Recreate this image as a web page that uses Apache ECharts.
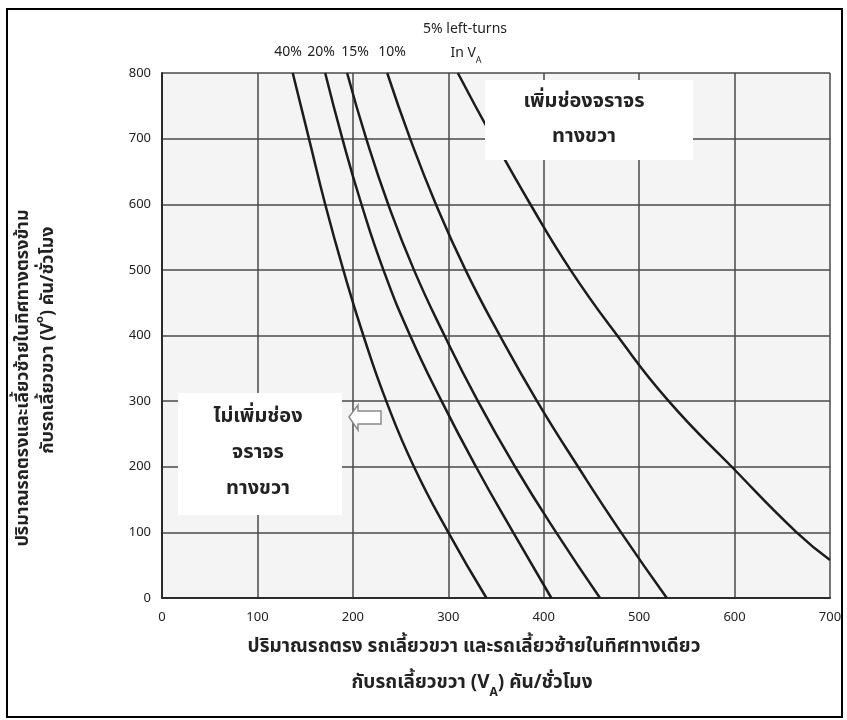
<!DOCTYPE html>
<html>
<head>
<meta charset="utf-8">
<script src="https://cdn.jsdelivr.net/npm/echarts@6/dist/echarts.min.js"></script>
<style>html,body{margin:0;padding:0;background:#fff}#c{width:847px;height:720px}</style>
</head>
<body>
<div id="c"></div>
<script>
// ---- data ----
var yLevels = [800, 700, 600, 500, 400, 300, 200, 100, 0];
var va40 = [137, 154, 171, 190, 211, 235, 264, 300, 340];
var va20 = [171, 189, 209, 232, 260, 293, 329, 368, 408];
var va15 = [194, 214, 237, 264, 296, 331, 370, 413, 459];
var va10 = [236, 260, 287, 318, 354, 393, 436, 481, 529];
var va05 = [310, 347, 386, 428, 477, 531, 597, 665, 700];
var vo05 = [800, 700, 600, 500, 400, 300, 200, 100, 58];
var seriesNames = ['40%', '20%', '15%', '10%', '5%'];
var xTicks = [0, 100, 200, 300, 400, 500, 600, 700];
var yTicks = [0, 100, 200, 300, 400, 500, 600, 700, 800];

var THAI = "'Noto Sans Thai','Noto Sans Thai UI','Loma','Tahoma','Noto Sans',sans-serif";
var NUM = "'Noto Sans','Open Sans',sans-serif";

function pairs(xs, ys) { return xs.map(function (x, i) { return [x, ys[i]]; }); }
var curveData = [pairs(va40, yLevels), pairs(va20, yLevels), pairs(va15, yLevels), pairs(va10, yLevels), pairs(va05, vo05)];

var chart = echarts.init(document.getElementById('c'), null, {renderer: 'canvas'});

var axisCommon = {
  type: 'value',
  axisLine: {show: true, onZero: false, lineStyle: {color: '#2a2a2a', width: 2}},
  axisTick: {show: false},
  splitLine: {show: true, lineStyle: {color: '#4a4a4a', width: 1.5}},
  axisLabel: {color: '#222', fontSize: 13, fontFamily: NUM}
};

var option = {
  backgroundColor: '#ffffff',
  animation: false,
  grid: {left: 162, right: 17, top: 73, bottom: 122, show: true, backgroundColor: '#f4f4f4', borderWidth: 0},
  xAxis: Object.assign({}, axisCommon, {
    min: xTicks[0], max: xTicks[xTicks.length - 1], interval: 100,
    axisLabel: Object.assign({}, axisCommon.axisLabel, {margin: 13})
  }),
  yAxis: Object.assign({}, axisCommon, {
    min: yTicks[0], max: yTicks[yTicks.length - 1], interval: 100,
    axisLabel: Object.assign({}, axisCommon.axisLabel, {margin: 11})
  }),
  series: curveData.map(function (d, i) {
    return {
      name: seriesNames[i], type: 'line', data: d, smooth: 0.5,
      showSymbol: false, clip: true, z: 3,
      lineStyle: {color: '#1c1c1c', width: 2.5}
    };
  }),
  graphic: [
    // outer frame
    {type: 'rect', shape: {x: 7, y: 9, width: 835, height: 708}, style: {fill: 'none', stroke: '#000', lineWidth: 2}, z: 100},
    // curve labels on top
    {type: 'text', x: 288, y: 52, style: {text: '40%', font: '14px ' + NUM, fill: '#222', align: 'center', verticalAlign: 'middle'}, z: 100},
    {type: 'text', x: 321, y: 52, style: {text: '20%', font: '14px ' + NUM, fill: '#222', align: 'center', verticalAlign: 'middle'}, z: 100},
    {type: 'text', x: 355, y: 52, style: {text: '15%', font: '14px ' + NUM, fill: '#222', align: 'center', verticalAlign: 'middle'}, z: 100},
    {type: 'text', x: 392, y: 52, style: {text: '10%', font: '14px ' + NUM, fill: '#222', align: 'center', verticalAlign: 'middle'}, z: 100},
    {type: 'text', x: 465, y: 29, style: {text: '5% left-turns', font: '14px ' + NUM, fill: '#222', align: 'center', verticalAlign: 'middle'}, z: 100},
    {type: 'text', x: 466, y: 53, style: {
      text: 'In V{s|A}', font: '14px ' + NUM, fill: '#222', align: 'center', verticalAlign: 'middle',
      rich: {s: {fontSize: 9, fontFamily: NUM, fill: '#222', verticalAlign: 'bottom', lineHeight: 24}}
    }, z: 100},
    // box: add lane
    {type: 'rect', shape: {x: 485, y: 80, width: 208, height: 80}, style: {fill: '#fff'}, z: 50},
    {type: 'text', x: 584, y: 103, style: {text: 'เพิ่มช่องจราจร', font: 'bold 20px ' + THAI, fill: '#222', align: 'center', verticalAlign: 'middle'}, z: 60},
    {type: 'text', x: 584, y: 138, style: {text: 'ทางขวา', font: 'bold 20px ' + THAI, fill: '#222', align: 'center', verticalAlign: 'middle'}, z: 60},
    // box: no extra lane
    {type: 'rect', shape: {x: 178, y: 393, width: 164, height: 122}, style: {fill: '#fff'}, z: 50},
    {type: 'text', x: 258, y: 418, style: {text: 'ไม่เพิ่มช่อง', font: 'bold 20px ' + THAI, fill: '#222', align: 'center', verticalAlign: 'middle'}, z: 60},
    {type: 'text', x: 258, y: 454, style: {text: 'จราจร', font: 'bold 20px ' + THAI, fill: '#222', align: 'center', verticalAlign: 'middle'}, z: 60},
    {type: 'text', x: 258, y: 490, style: {text: 'ทางขวา', font: 'bold 20px ' + THAI, fill: '#222', align: 'center', verticalAlign: 'middle'}, z: 60},
    // arrow pointing left
    {type: 'polygon', shape: {points: [[349, 417], [358, 405], [358, 411], [381, 411], [381, 424], [358, 424], [358, 430]]},
      style: {fill: '#fff', stroke: '#8a8a8a', lineWidth: 1.5}, z: 60},
    // x axis title
    {type: 'text', x: 474, y: 648, style: {text: 'ปริมาณรถตรง รถเลี้ยวขวา และรถเลี้ยวซ้ายในทิศทางเดียว', font: 'bold 19px ' + THAI, fill: '#222', align: 'center', verticalAlign: 'middle'}, z: 60},
    {type: 'text', x: 472, y: 684, style: {
      text: 'กับรถเลี้ยวขวา (V{s|A}) คัน/ชั่วโมง', font: 'bold 19px ' + THAI, fill: '#222', align: 'center', verticalAlign: 'middle',
      rich: {s: {fontSize: 12, fontWeight: 'bold', fontFamily: NUM, fill: '#222', verticalAlign: 'bottom', lineHeight: 30}}
    }, z: 60},
    // y axis title
    {type: 'text', x: 24, y: 378, rotation: Math.PI / 2, style: {text: 'ปริมาณรถตรงและเลี้ยวซ้ายในทิศทางตรงข้าม', font: 'bold 18px ' + THAI, fill: '#222', align: 'center', verticalAlign: 'middle'}, z: 60},
    {type: 'text', x: 49, y: 340, rotation: Math.PI / 2, style: {
      text: 'กับรถเลี้ยวขวา (V{s|o}) คัน/ชั่วโมง', font: 'bold 18px ' + THAI, fill: '#222', align: 'center', verticalAlign: 'middle',
      rich: {s: {fontSize: 11, fontWeight: 'bold', fontFamily: NUM, fill: '#222', verticalAlign: 'top', lineHeight: 30}}
    }, z: 60}
  ]
};
chart.setOption(option);
</script>
</body>
</html>
